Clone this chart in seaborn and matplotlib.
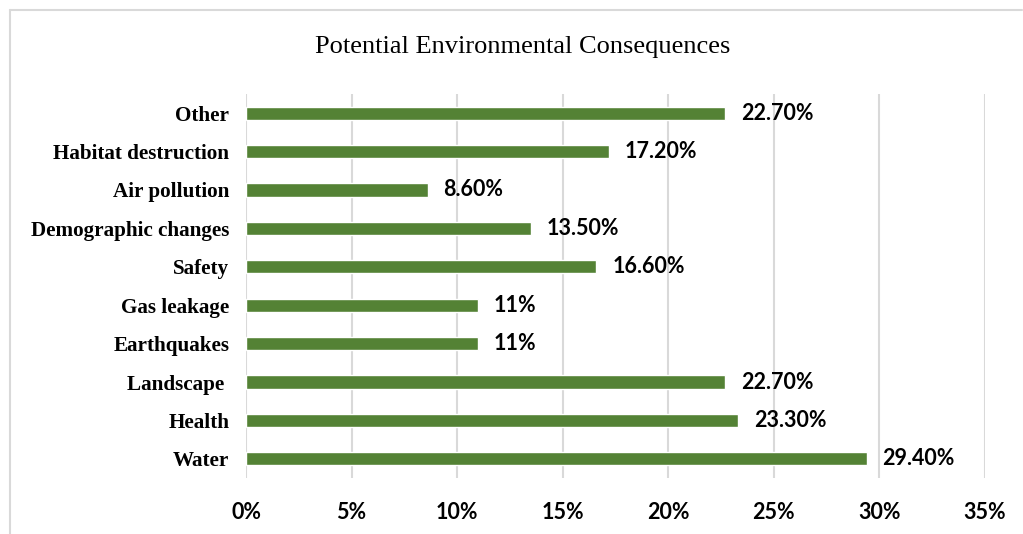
import pandas as pd
import numpy as np
import matplotlib.pyplot as plt
import seaborn as sns
from matplotlib.lines import Line2D

# ================================================
#  Datos
# ================================================

categorias = ['Other', 'Habitat destruction', 'Air pollution', 'Demographic changes',
              'Safety', 'Gas leakage', 'Earthquakes', 'Landscape ', 'Health', 'Water']
valores = [0.227, 0.172, 0.086, 0.135, 0.166, 0.11, 0.11, 0.227, 0.233, 0.294]
etiquetas = ['22.70%', '17.20%', '8.60%', '13.50%', '16.60%', '11%', '11%',
             '22.70%', '23.30%', '29.40%']
ticks_x = [0, 0.05, 0.10, 0.15, 0.20, 0.25, 0.30, 0.35]
ticks_x_txt = ['0%', '5%', '10%', '15%', '20%', '25%', '30%', '35%']

df = pd.DataFrame({'Categoria': categorias, 'Valor': valores})

# ================================================
#  Grafico
# ================================================

sns.set_style('white')
verde = '#548235'

fig = plt.figure(figsize=(10.23, 5.34), dpi=100)
ax = fig.add_axes([246 / 1023, 1 - 478 / 534, (985 - 246) / 1023, (478 - 94) / 534])

sns.barplot(data=df, x='Valor', y='Categoria', color=verde, width=0.34,
            saturation=1, ax=ax, zorder=3)

ax.set_xlim(0, 0.35)
ax.set_ylim(9.5, -0.5)
ax.set_xticks(ticks_x)
ax.set_xticklabels(ticks_x_txt, fontfamily='Lato', fontweight='bold', fontsize=15.5)
ax.tick_params(axis='x', length=0, pad=17, labelcolor='black')
ax.tick_params(axis='y', length=0, pad=12, labelcolor='black')
for lbl in ax.get_yticklabels():
    lbl.set_fontfamily('Liberation Serif')
    lbl.set_fontweight('bold')
    lbl.set_fontsize(15.2)

ax.grid(axis='x', color='#d9d9d9', linewidth=1.5, zorder=0)
ax.grid(axis='y', visible=False)
for s in ax.spines.values():
    s.set_visible(False)
ax.set_xlabel('')
ax.set_ylabel('')

# Etiquetas de datos
for i, (v, t) in enumerate(zip(valores, etiquetas)):
    ax.text(v + 0.0075, i, t, va='center', ha='left', fontfamily='Lato',
            fontweight='bold', fontsize=15.5, color='black', zorder=4)

fig.text(523 / 1023, 1 - 47 / 534, 'Potential Environmental Consequences',
         ha='center', va='center', fontfamily='Liberation Serif', fontsize=19,
         color='black')

# Borde del grafico (izquierda y arriba)
fig.add_artist(Line2D([9.5 / 1023, 9.5 / 1023], [0, 1 - 10 / 534],
                      transform=fig.transFigure, color='#d9d9d9', linewidth=1.5))
fig.add_artist(Line2D([9.5 / 1023, 1022 / 1023], [1 - 10 / 534, 1 - 10 / 534],
                      transform=fig.transFigure, color='#d9d9d9', linewidth=1.5))

fig.savefig('out.png', dpi=100)
